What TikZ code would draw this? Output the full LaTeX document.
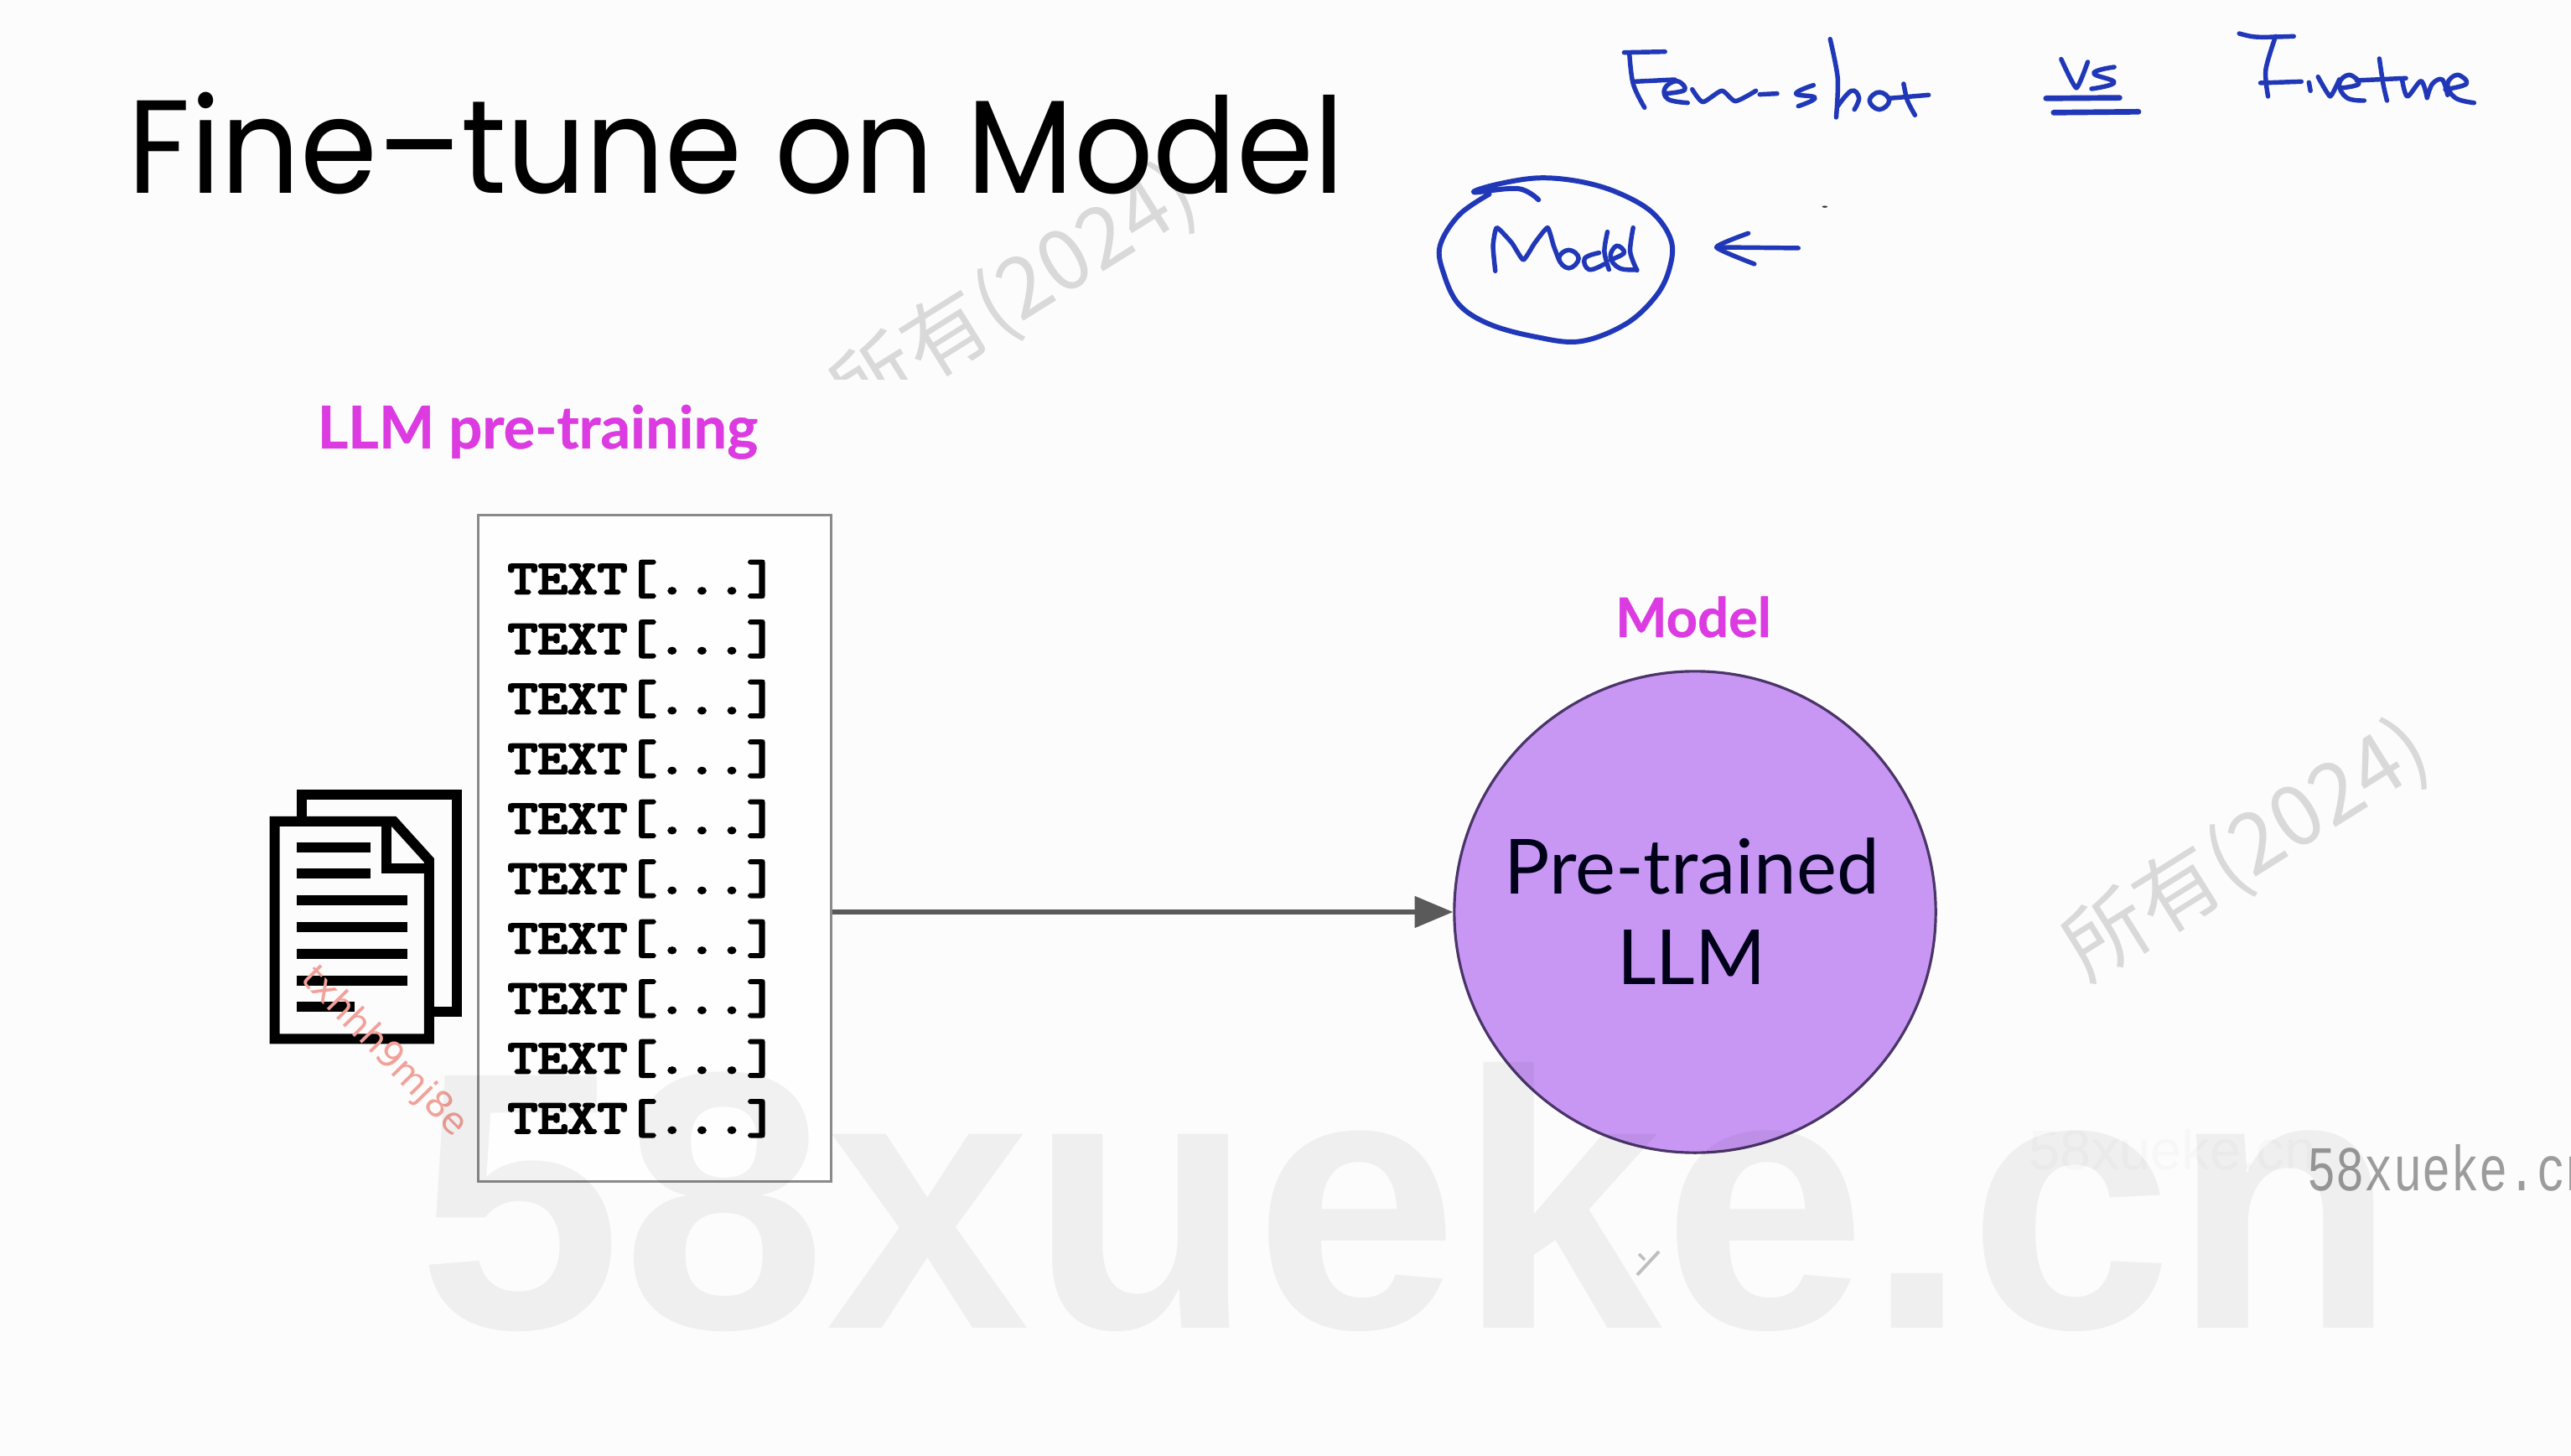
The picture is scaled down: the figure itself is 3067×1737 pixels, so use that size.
\documentclass[tikz,border=0pt]{standalone}
\usepackage{fontspec}
\setmainfont[BoldFeatures={FakeBold=0.6}]{Lato}
\newfontfamily\titlefont[FakeStretch=0.935]{Poppins}
\newfontfamily\cjkfont{Noto Sans CJK SC}
\newfontfamily\wmfont{Liberation Sans}
\newfontfamily\textmono{Liberation Mono}
\newfontfamily\corpusfont[FakeBold=5,FakeStretch=1.23]{Latin Modern Mono}
\newfontfamily\redfont{DejaVu Sans}
\usetikzlibrary{arrows.meta}
\definecolor{pagebg}{HTML}{FCFCFC}
\definecolor{magentalabel}{HTML}{DB3BE0}
\definecolor{llmfill}{HTML}{C897F4}
\definecolor{llmedge}{HTML}{4A3468}
\definecolor{inkblue}{HTML}{2038B8}
\definecolor{markgray}{HTML}{D9D9D9}
\definecolor{boxedge}{HTML}{8A8A8A}
\definecolor{arrowgray}{HTML}{5A5A5A}
\definecolor{redmark}{HTML}{F1A199}
\definecolor{monogray}{HTML}{9C9C9C}
\tikzset{
  label text/.style={text=magentalabel,font=\fontsize{18.5}{20}\selectfont\bfseries,inner sep=0pt},
  ink/.style={draw=inkblue,line width=1.55pt,line cap=round,line join=round},
  icon/.style={draw=black,line width=3.4pt,line join=miter},
  iconline/.style={draw=black,line width=3.4pt},
  corpus/.style={font=\corpusfont\fontsize{16}{18}\selectfont,inner sep=0pt,text=black},
  stamp/.style={text=markgray,font=\cjkfont\fontsize{28.5}{32}\selectfont,rotate=32,inner sep=0pt},
}
\begin{document}
\begin{tikzpicture}[x=0.01cm,y=-0.01cm]
\useasboundingbox (0,0) rectangle (3067,1737);
\fill[pagebg] (0,0) rectangle (3067,1737);
% rotated stamps
\begin{scope}
\clip (0,0) rectangle (3067,453);
\node[stamp] (stampa) at (1210,352) {所有(2024)};
\end{scope}
\node[stamp] (stampb) at (2680,1015) {所有(2024)};
\node[anchor=base west,inner sep=0pt,text=black!3,font=\wmfont\fontsize{19}{20}\selectfont] (faint) at (2420,1395) {58xueke.cn};
% title
\node[anchor=base west,inner sep=0pt,text=black,font=\titlefont\fontsize{45}{50}\selectfont] (title) at (152,231) {Fine–tune on Model};
% labels
\node[label text,anchor=base west,font=\fontsize{20}{22}\selectfont\bfseries] (lbla) at (378,535) {LLM pre-training};
\node[label text,anchor=base] (lblb) at (2020,760) {Model};
% corpus box
\node[draw=boxedge,line width=0.9pt,fill=white!60!pagebg,minimum width=4.21cm,minimum height=7.95cm,inner sep=0pt] (box) at (781,1012) {};
\foreach \i in {0,...,9}{
  \node[corpus,anchor=base west] (t\i) at (605,{708+71.5*\i}) {TEXT[...]};
}
% model circle
\node[circle,draw=llmedge,line width=0.9pt,fill=llmfill,minimum size=5.74cm,inner sep=0pt] (circ) at (2022,1088) {};
\node[anchor=base,inner sep=0pt,text=black!90!blue,font=\fontsize{25.8}{27}\selectfont] (pt) at (2018,1066) {Pre-trained};
\node[anchor=base,inner sep=0pt,text=black!90!blue,font=\fontsize{25.8}{27}\selectfont] (llm) at (2018,1174) {LLM};
\draw[arrowgray,line width=1.5pt,-{Triangle[length=13pt,width=10.5pt]}] (box.east |- circ.west) -- (circ.west);
% document icon
\begin{scope}[shift={(280,880)},x=0.00333cm,y=-0.00333cm]
\draw[icon] (240,300) -- (240,203) -- (795,203) -- (795,983) -- (700,983);
\draw[icon,fill=pagebg] (143,300) -- (570,300) -- (697,440) -- (697,1080) -- (143,1080) -- cycle;
\draw[icon] (545,305) -- (545,468) -- (697,468);
\foreach \yy/\xe in {393/487,488/487,583/620,680/620,775/620,870/620,965/430}{
  \draw[iconline] (222,\yy) -- (\xe,\yy);
}
\end{scope}
\node[rotate=-45.5,inner sep=0pt,text=redmark,font=\redfont\fontsize{12.4}{14}\selectfont] (red) at (458,1255) {txhhh9mj8e};
% handwriting
\begin{scope}[shift={(1650,0)},xscale=0.9037,yscale=0.3333]
% Few-shot
\draw[ink] (318,188) -- (372,185);
\draw[ink] plot[smooth,tension=.6] coordinates {(325,190) (330,300) (345,385)};
\draw[ink] (332,292) -- (385,285);
\draw[ink] plot[smooth,tension=.7] coordinates {(372,335) (398,322) (388,290) (372,315) (376,355) (402,368)};
\draw[ink] plot[smooth,tension=.4] coordinates {(408,320) (422,365) (447,325) (465,362) (492,325)};
\draw[ink] (497,338) -- (520,335);
\draw[ink] plot[smooth,tension=.8] coordinates {(568,305) (545,335) (570,350) (548,380)};
\draw[ink] plot[smooth,tension=.5] coordinates {(590,140) (600,280) (598,420)};
\draw[ink] plot[smooth,tension=.7] coordinates {(600,380) (618,325) (628,350) (622,392)};
\draw[ink] plot[smooth cycle,tension=.8] coordinates {(655,330) (642,360) (655,392) (668,360)};
\draw[ink] plot[smooth,tension=.5] coordinates {(687,300) (692,360) (702,412)};
\draw[ink] (668,352) -- (720,340);
% vs
\draw[ink] plot[smooth,tension=.3] coordinates {(895,212) (915,315) (930,222)};
\draw[ink] plot[smooth,tension=.8] coordinates {(965,240) (938,262) (965,295) (935,318)};
\draw[ink,line width=1.9pt] (875,352) -- (972,350);
\draw[ink,line width=1.9pt] (885,403) -- (997,400);
% Finetune
\draw[ink] (1130,120) .. controls (1150,135) .. (1202,130);
\draw[ink] plot[smooth,tension=.5] coordinates {(1178,130) (1165,250) (1168,345)};
\draw[ink] (1158,297) -- (1212,292);
\draw[ink] (1222,295) -- (1224,325);
\draw[ink] plot[smooth,tension=.3] coordinates {(1234,275) (1250,345) (1262,285)};
\draw[ink] plot[smooth,tension=.7] coordinates {(1265,315) (1288,300) (1275,268) (1262,300) (1272,350) (1295,360)};
\draw[ink] plot[smooth,tension=.5] coordinates {(1315,210) (1320,300) (1325,360)};
\draw[ink] (1285,288) -- (1350,280);
\draw[ink] plot[smooth,tension=.5] coordinates {(1345,285) (1352,345) (1370,290) (1378,350)};
\draw[ink] plot[smooth,tension=.6] coordinates {(1378,350) (1385,300) (1398,285) (1405,340)};
\draw[ink] plot[smooth,tension=.7] coordinates {(1402,320) (1430,300) (1418,268) (1405,300) (1415,350) (1440,368)};
% hand-drawn Model circle
\draw[ink,line width=1.7pt] plot[smooth,tension=.6] coordinates {(205,715) (178,675) (120,688) (150,660) (205,637) (260,650) (310,690) (355,760) (380,860) (378,960) (360,1060) (320,1160) (260,1222) (200,1205) (140,1160) (100,1090) (80,980) (75,880) (100,770) (140,695)};
% Model
\draw[ink] plot[smooth,tension=.3] coordinates {(148,970) (145,880) (150,815) (170,870) (185,930) (200,870) (217,815) (225,880) (232,930)};
\draw[ink] plot[smooth cycle,tension=.8] coordinates {(245,895) (232,925) (245,960) (258,925)};
\draw[ink] plot[smooth,tension=.7] coordinates {(285,905) (266,925) (272,965) (292,945)};
\draw[ink] plot[smooth,tension=.5] coordinates {(296,830) (292,900) (298,965)};
\draw[ink] plot[smooth,tension=.7] coordinates {(300,930) (318,905) (308,880) (300,920) (312,960) (335,965)};
\draw[ink] plot[smooth,tension=.5] coordinates {(330,815) (326,900) (335,968)};
% arrow
\draw[ink] (548,888) -- (445,885);
\draw[ink] plot[smooth,tension=.3] coordinates {(482,835) (440,885) (490,945)};
\fill[black!80] (583,740) circle (3.5);
\end{scope}
% small mark
\draw[gray!50,line width=1.1pt] (1953,1521) -- (1979,1493);
\draw[gray!50,line width=1pt] (1955,1496) -- (1962,1503);
% mono watermark
\begin{scope}
\clip (0,0) rectangle (3067,1737);
\node[anchor=base west,inner sep=0pt,text=monogray,font=\textmono\fontsize{21.6}{24}\selectfont,xscale=0.75,transform shape] (mono) at (2752,1420) {58xueke.cn};
\end{scope}
% big watermark over everything
\node[anchor=base west,inner sep=0pt,text=black,text opacity=0.05,font=\wmfont\fontsize{124.5}{130}\selectfont\bfseries] (big) at (498,1584) {58xueke.cn};
\end{tikzpicture}
\end{document}
